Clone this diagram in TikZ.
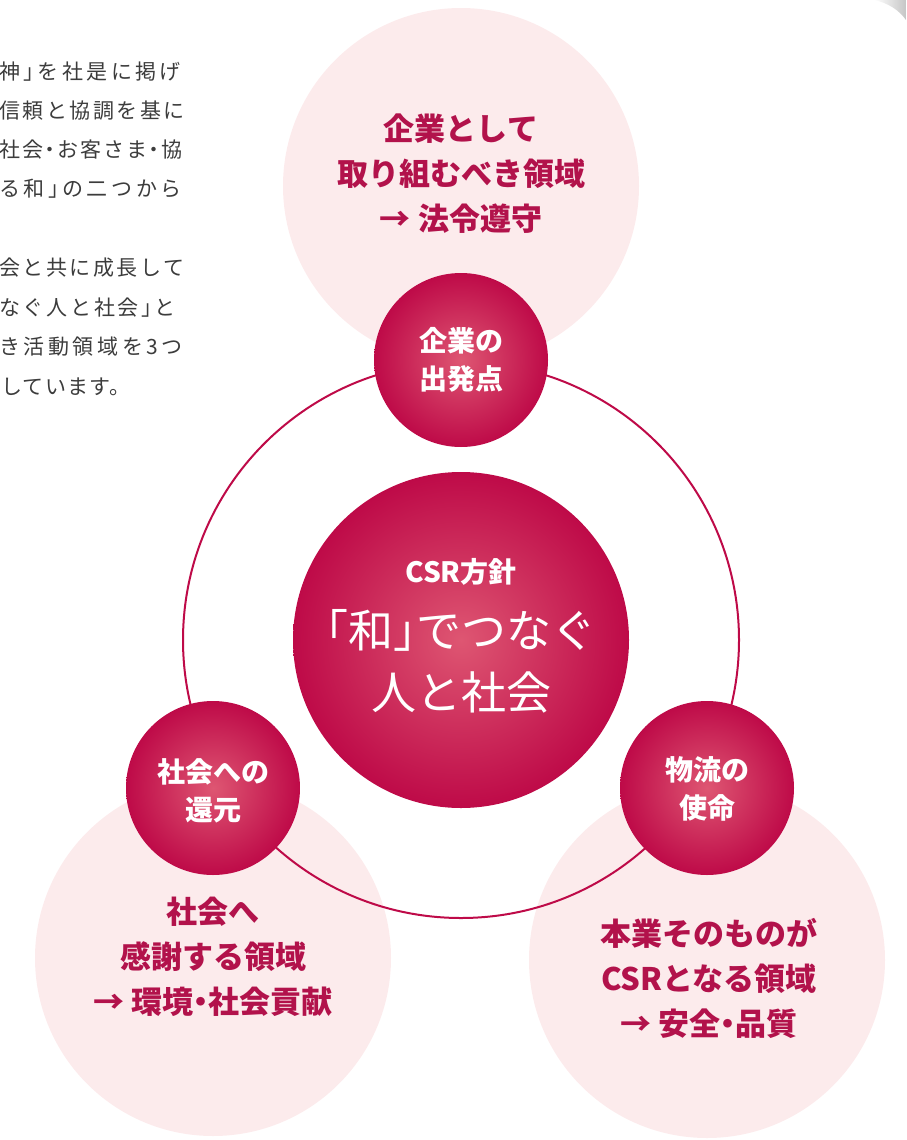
\documentclass[tikz,border=0pt]{standalone}
\usepackage{fontspec}
\setmainfont[RawFeature=+halt]{Noto Sans CJK JP}
\definecolor{csrred}{HTML}{BE0A48}
\definecolor{csrlight}{HTML}{DE5672}
\definecolor{csrpink}{HTML}{FCEBEC}
\definecolor{csrtext}{HTML}{B2124B}
\definecolor{bodygray}{HTML}{3C3C3C}
\begin{document}
\begin{tikzpicture}[x=1pt,y=-1pt,
  areadisc/.style={circle,fill=csrpink,minimum size=356pt,inner sep=0pt},
  keydisc/.style={circle,inner color=csrlight,outer color=csrred,minimum size=174pt,inner sep=0pt},
  areatext/.style={text=csrtext,align=center,inner sep=0pt,font=\fontsize{31}{45}\selectfont\bfseries},
  keytext/.style={text=white,align=center,inner sep=0pt,font=\fontsize{28}{38}\selectfont\bfseries},
  bodyline/.style={text=bodygray,inner sep=0pt,anchor=west,font=\fontsize{21}{21}\selectfont\addfontfeature{LetterSpace=#1}}]
\useasboundingbox (0,0) rectangle (906,1140);
% page corner
\shade[left color=white,right color=gray!45] (874,0) .. controls (888,3) and (899,10) .. (906,20) -- (906,0) -- cycle;
% running text, cut at the left edge; spacing set per line so each full line ends at the same x
\node[bodyline=16.5] (body1) at (-1,72) {神」を社是に掲げ};
\node[bodyline=12] (body2) at (-1,111) {信頼と協調を基に};
\node[bodyline=9] (body3) at (-1,150) {社会・お客さま・協};
\node[bodyline=17] (body4) at (-1,189) {る和」の二つから};
\node[bodyline=12] (body5) at (-1,268) {会と共に成長して};
\node[bodyline=13] (body6) at (-1,308) {なぐ人と社会」と};
\node[bodyline=17] (body7) at (-1,347) {き活動領域を3つ};
\node[bodyline=6] (body8) at (1,387) {しています。};
% light discs of the three areas
\node[areadisc] (lawArea) at (461,186) {};
\node[areadisc] (socArea) at (213,958) {};
\node[areadisc] (bizArea) at (707,960) {};
% ring and the four red discs
\node[circle,draw=csrred,line width=2pt,minimum size=556pt,inner sep=0pt] (ring) at (461,640) {};
\node[circle,inner color=csrlight,outer color=csrred,minimum size=336pt,inner sep=0pt] (policy) at (461,640) {};
\node[keydisc] (start) at (461,360) {};
\node[keydisc] (giveback) at (213,788) {};
\node[keydisc] (mission) at (707,788) {};
% texts
\node[text=white,inner sep=0pt,font=\fontsize{28}{28}\selectfont\bfseries] (policyTitle) at (461,572) {CSR方針};
\node[text=white,align=center,inner sep=0pt,font=\fontsize{45}{62}\selectfont] (policyText) at (461,661) {「和」でつなぐ\\人と社会};
\node[keytext] (startText) at (461,360) {企業の\\出発点};
\node[keytext] (givebackText) at (213,791) {社会への\\還元};
\node[keytext] (missionText) at (707,789) {物流の\\使命};
\node[areatext] (lawText) at (461,174) {企業として\\取り組むべき領域\\→ 法令遵守};
\node[areatext] (socText) at (213,957) {社会へ\\感謝する領域\\→ 環境・社会貢献};
\node[areatext] (bizText) at (709,978) {本業そのものが\\CSRとなる領域\\→ 安全・品質};
\end{tikzpicture}
\end{document}
